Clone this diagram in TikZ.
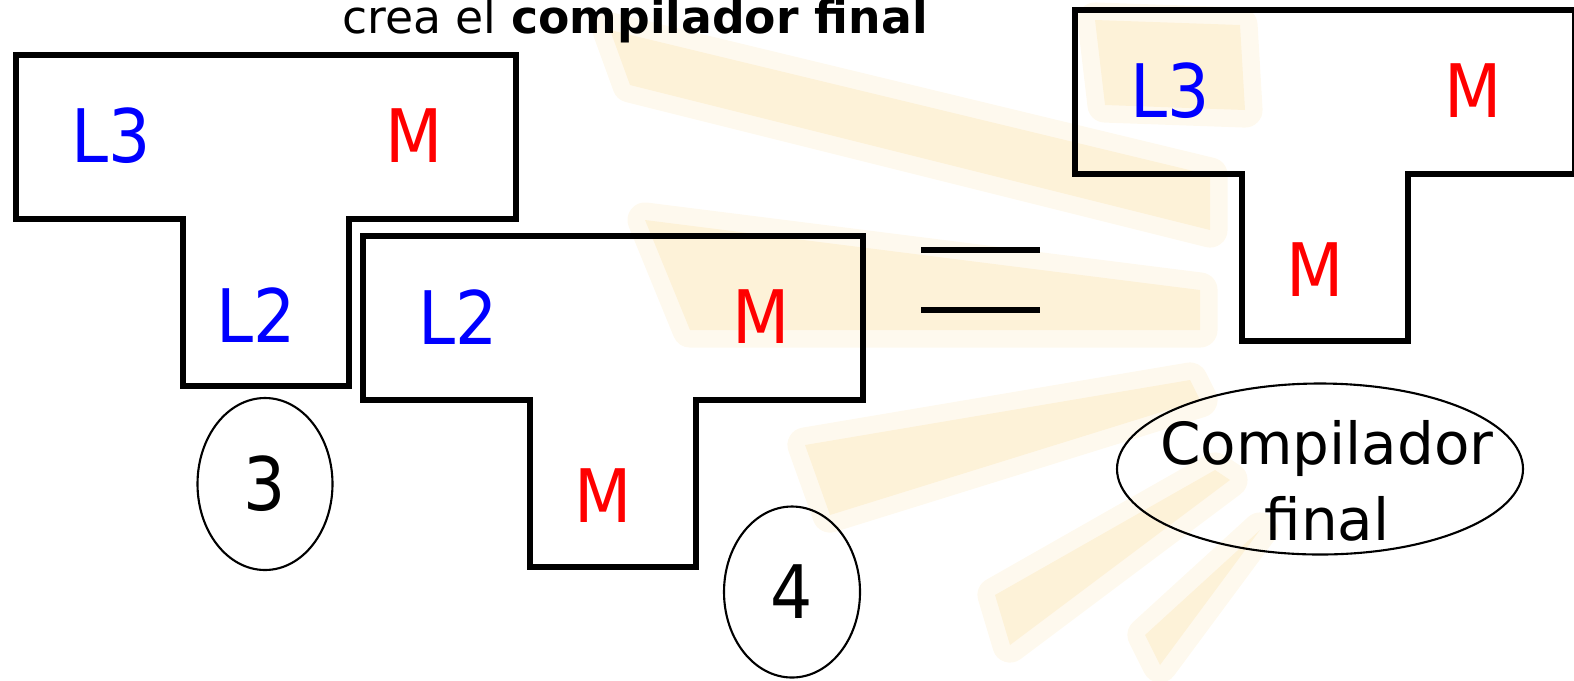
\documentclass[tikz,border=0pt]{standalone}
\usepackage{fontspec}
\setmainfont{DejaVu Sans}
\newfontfamily\lblfont[FakeStretch=0.9]{DejaVu Sans}
\usetikzlibrary{shapes.geometric}
\definecolor{rayc}{RGB}{250,222,160}
\newcommand\rayshapes[1]{%
  \path[#1] (6.1,6.5) -- (6.3,5.95) -- (12.1,4.5) -- (12.1,5.05) -- cycle;
  \path[#1] (10.95,6.6) -- (11.05,5.75) -- (12.45,5.7) -- (12.4,6.55) -- cycle;
  \path[#1] (6.45,4.6) -- (6.9,3.5) -- (12.0,3.5) -- (12.0,3.9) -- cycle;
  \path[#1] (8.05,2.35) -- (8.3,1.65) -- (12.0,2.8) -- (11.9,3.0) -- cycle;
  \path[#1] (9.95,0.85) -- (10.1,0.35) -- (12.3,2.0) -- (12.15,2.1) -- cycle;
  \path[#1] (11.45,0.45) -- (11.6,0.15) -- (12.6,1.5) -- cycle;}
\tikzset{
  tline/.style={line width=1.7pt, line join=miter},
  lbl/.style={font=\lblfont\fontsize{21}{25}\selectfont, inner sep=0pt},
  oval/.style={draw, ellipse, line width=0.6pt, inner sep=0pt},
  rayhalo/.style={fill=rayc, draw=rayc, line width=10pt, line join=round},
  raycore/.style={fill=rayc},
  pics/tblock/.style n args={4}{code={
    \draw[tline] (0,0) -- (5,0) -- (5,-1.64) -- (3.33,-1.64) -- (3.33,-3.31)
      -- (1.67,-3.31) -- (1.67,-1.64) -- (0,-1.64) -- cycle;
    \node[lbl, blue] (-src) at (0.95,-0.81) {#1};
    \node[lbl, red] (-tgt) at (3.98,-0.81) {#2};
    \node[lbl, #4] (-impl) at (2.4,-2.6) {#3};
  }}
}
\begin{document}
\begin{tikzpicture}
\useasboundingbox (0,0) rectangle (15.74,6.80);
% background rays
\begin{scope}[transparency group, opacity=0.18]
  \rayshapes{rayhalo}
\end{scope}
\begin{scope}[transparency group, opacity=0.28]
  \rayshapes{raycore}
\end{scope}
% title
\node[anchor=base, font=\fontsize{13}{15}\selectfont] (title) at (6.35,6.47)
  {crea el \textbf{compilador final}};
% T diagrams
\pic (tA) at (0.16,6.25) {tblock={L3}{M}{L2}{blue}};
\pic (tB) at (3.63,4.44) {tblock={L2}{M}{M}{red}};
\pic (tC) at (10.75,6.70) {tblock={L3}{M}{M}{red}};
% equals sign
\draw[tline] (9.21,4.30) -- (10.40,4.30);
\draw[tline] (9.21,3.70) -- (10.40,3.70);
% numbered ovals
\node[oval, lbl, minimum width=1.35cm, minimum height=1.72cm] (n3) at (2.65,1.96) {3};
\node[oval, lbl, minimum width=1.36cm, minimum height=1.71cm] (n4) at (7.92,0.88) {4};
\node[oval, minimum width=4.06cm, minimum height=1.71cm] (final) at (13.20,2.11) {};
\node[align=center, inner sep=0pt, font=\fontsize{16.5}{21.6}\selectfont] (finaltxt)
  at (13.27,1.99) {Compilador\\final};
\end{tikzpicture}
\end{document}
